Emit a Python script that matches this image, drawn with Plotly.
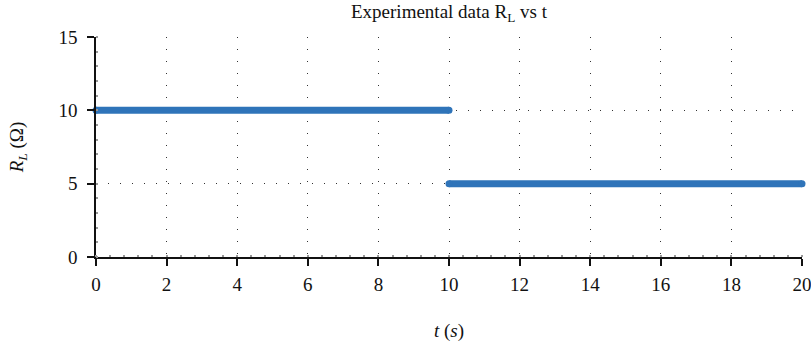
import plotly.graph_objects as go

# Data: experimental load resistance R_L vs time t (step change at t = 10 s)
t_phase1 = [0, 10]
R_phase1 = [10, 10]
t_phase2 = [10, 20]
R_phase2 = [5, 5]

x_ticks = [0, 2, 4, 6, 8, 10, 12, 14, 16, 18, 20]
y_ticks = [0, 5, 10, 15]

blue = "#2f74b9"
font_family = "Liberation Serif, DejaVu Serif, serif"
ink = "#111"

fig = go.Figure()
for tx, ry in [(t_phase1, R_phase1), (t_phase2, R_phase2)]:
    fig.add_trace(go.Scatter(
        x=tx, y=ry, mode="lines+markers",
        line=dict(color=blue, width=7),
        marker=dict(color=blue, size=7),
        showlegend=False, cliponaxis=False,
    ))

grid_dash = "1px,11px"
fig.update_layout(
    width=811, height=343,
    margin=dict(l=96, r=9, t=37, b=86),
    paper_bgcolor="white", plot_bgcolor="white",
    font=dict(family=font_family, size=19, color=ink),
    title=dict(text="Experimental data R<sub>L</sub> vs t", x=0.5, xref="paper",
               xanchor="center", y=0.985, yanchor="top",
               font=dict(family=font_family, size=19, color=ink)),
    xaxis=dict(
        range=[0, 20], tickvals=x_ticks, ticktext=[str(v) for v in x_ticks],
        automargin=False, ticklabeloverflow="allow",
        showline=True, linecolor=ink, linewidth=1.5,
        ticks="outside", ticklen=7, tickcolor=ink, tickwidth=1.5,
        ticklabelstandoff=2,
        showgrid=True, gridcolor="#333", gridwidth=1.2, griddash=grid_dash,
        zeroline=False,
        minor=dict(dtick=0.4, ticks="inside", ticklen=2, tickcolor="#999", showgrid=False),
        title=dict(text="<i>t</i> (<i>s</i>)", standoff=30,
                   font=dict(family=font_family, size=19)),
    ),
    yaxis=dict(
        range=[0, 15], tickvals=y_ticks, ticktext=[str(v) for v in y_ticks],
        automargin=False, ticklabeloverflow="allow",
        showline=True, linecolor=ink, linewidth=1.5,
        ticks="outside", ticklen=7, tickcolor=ink, tickwidth=1.5,
        ticklabelstandoff=6,
        showgrid=True, gridcolor="#333", gridwidth=1.2, griddash=grid_dash,
        zeroline=False,
        minor=dict(dtick=1, ticks="inside", ticklen=2, tickcolor="#999", showgrid=False),
        title=dict(text="<i>R<sub>L</sub></i> (Ω)", standoff=30,
                   font=dict(family=font_family, size=19)),
    ),
)

fig.write_html("out.html")
